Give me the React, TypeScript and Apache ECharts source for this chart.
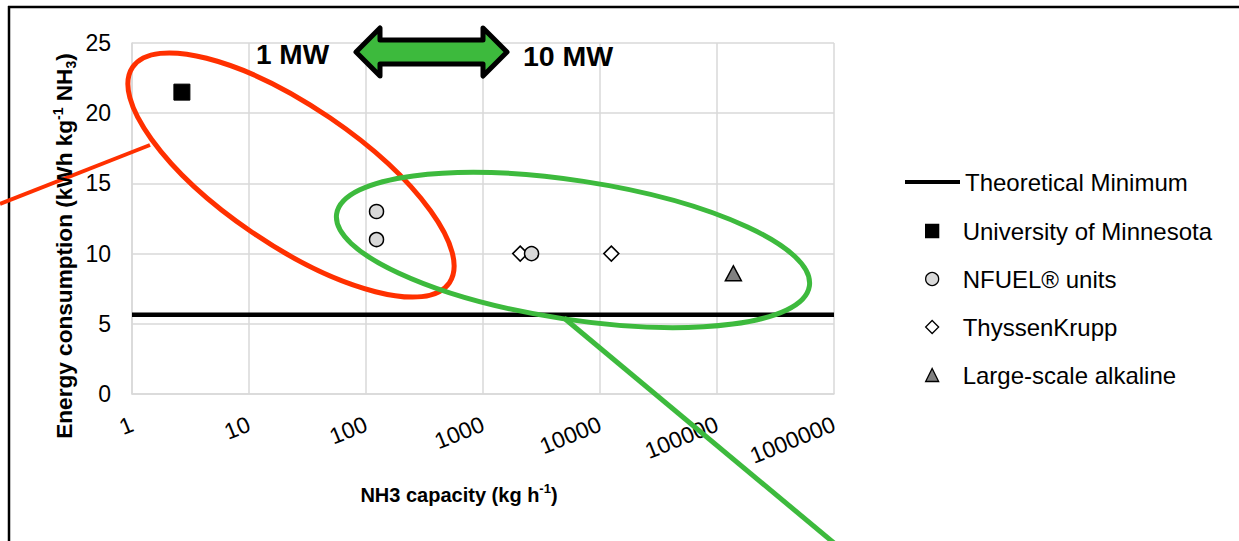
import { useEffect, useRef } from "react";
import * as echarts from "echarts";

const FONT = "'Liberation Sans', Arial, sans-serif";

// Axis ticks
const xTickValues = [1, 10, 100, 1000, 10000, 100000, 1000000];
const yTickValues = [0, 5, 10, 15, 20, 25];

// Series names
const seriesNames = [
  "Theoretical Minimum",
  "University of Minnesota",
  "NFUEL® units",
  "ThyssenKrupp",
  "Large-scale alkaline",
];

// Values (NH3 capacity kg/h, energy kWh/kg NH3)
const theoreticalMinimum = 5.64;
const umnCapacity = [2.67];
const umnEnergy = [21.5];
const nfuelCapacity = [123, 123, 2600];
const nfuelEnergy = [13, 11, 10];
const thyssenCapacity = [2080, 12500];
const thyssenEnergy = [10, 10];
const alkalineCapacity = [138000];
const alkalineEnergy = [8.6];

const zip = (xs: number[], ys: number[]) => xs.map((x, i) => [x, ys[i]]);

export default function App() {
  const ref = useRef<HTMLDivElement>(null);

  useEffect(() => {
    if (!ref.current) return;
    const chart = echarts.init(ref.current, null, { renderer: "svg" });
    const deg = Math.PI / 180;
    const gray = "#d9d9d9";
    const green = "#3dba3d";
    const red = "#ff3000";
    const legendText = { fontSize: 24, color: "#000", lineHeight: 24, fontFamily: FONT };

    chart.setOption({
      animation: false,
      textStyle: { fontFamily: FONT },
      grid: { left: 132, right: 405, top: 43, bottom: 147 },
      xAxis: {
        type: "log",
        logBase: 10,
        min: xTickValues[0],
        max: xTickValues[xTickValues.length - 1],
        splitNumber: 6,
        axisLine: { show: true, lineStyle: { color: gray, width: 1.5 } },
        axisTick: { show: false },
        minorTick: { show: false },
        minorSplitLine: { show: false },
        splitLine: { show: true, lineStyle: { color: gray, width: 1.5 } },
        axisLabel: {
          rotate: 22,
          margin: 29,
          fontSize: 23,
          color: "#000",
          showMinLabel: true,
          showMaxLabel: true,
          formatter: (v: number) => String(Math.round(v)),
        },
      },
      yAxis: {
        type: "value",
        min: yTickValues[0],
        max: yTickValues[yTickValues.length - 1],
        interval: 5,
        axisLine: { show: true, lineStyle: { color: gray, width: 1.5 } },
        axisTick: { show: false },
        splitLine: { show: true, lineStyle: { color: gray, width: 1.5 } },
        axisLabel: { fontSize: 23, color: "#000", margin: 21 },
      },
      legend: [
        {
          orient: "vertical",
          left: 905,
          top: 170,
          padding: 0,
          itemWidth: 55,
          itemHeight: 4,
          selectedMode: false,
          textStyle: legendText,
          data: [{ name: seriesNames[0], icon: "rect", itemStyle: { color: "#000" } }],
        },
        {
          orient: "vertical",
          left: 925,
          top: 219,
          padding: 0,
          itemWidth: 13,
          itemHeight: 13,
          itemGap: 24,
          selectedMode: false,
          itemStyle: { borderWidth: 1.3 },
          textStyle: { ...legendText, padding: [0, 0, 0, 19] },
          data: seriesNames.slice(1),
        },
      ],
      series: [
        {
          name: seriesNames[0],
          type: "line",
          symbol: "none",
          silent: true,
          z: 2,
          lineStyle: { color: "#000", width: 4.5 },
          itemStyle: { color: "#000" },
          data: [
            [xTickValues[0], theoreticalMinimum],
            [xTickValues[xTickValues.length - 1], theoreticalMinimum],
          ],
        },
        {
          name: seriesNames[1],
          type: "scatter",
          symbol: "rect",
          symbolSize: 16,
          z: 3,
          itemStyle: { color: "#000", borderColor: "#000", opacity: 1 },
          data: zip(umnCapacity, umnEnergy),
        },
        {
          name: seriesNames[2],
          type: "scatter",
          symbol: "circle",
          symbolSize: 14,
          z: 5,
          itemStyle: { color: "#d9d9d9", borderColor: "#000", borderWidth: 1.5, opacity: 1 },
          data: zip(nfuelCapacity, nfuelEnergy),
        },
        {
          name: seriesNames[3],
          type: "scatter",
          symbol: "diamond",
          symbolSize: 15,
          z: 4,
          itemStyle: { color: "#fff", borderColor: "#000", borderWidth: 1.5, opacity: 1 },
          data: zip(thyssenCapacity, thyssenEnergy),
        },
        {
          name: seriesNames[4],
          type: "scatter",
          symbol: "triangle",
          symbolSize: [16, 15],
          z: 4,
          itemStyle: { color: "#808080", borderColor: "#000", borderWidth: 1.5, opacity: 1 },
          data: zip(alkalineCapacity, alkalineEnergy),
        },
      ],
      graphic: [
        // page border
        { type: "line", z: 100, shape: { x1: 8, y1: 7, x2: 1239, y2: 7 }, style: { stroke: "#000", lineWidth: 2.5 } },
        { type: "line", z: 100, shape: { x1: 9, y1: 6, x2: 9, y2: 541 }, style: { stroke: "#000", lineWidth: 2.5 } },
        // red ellipse + pointer
        {
          type: "ellipse",
          z: 100,
          x: 291,
          y: 175,
          rotation: -34.25 * deg,
          shape: { cx: 0, cy: 0, rx: 191.5, ry: 69.2 },
          style: { fill: "none", stroke: red, lineWidth: 5 },
        },
        { type: "line", z: 100, shape: { x1: 0, y1: 204, x2: 150, y2: 145 }, style: { stroke: red, lineWidth: 4 } },
        // green ellipse + pointer
        {
          type: "ellipse",
          z: 100,
          x: 573,
          y: 250,
          rotation: -8.68 * deg,
          shape: { cx: 0, cy: 0, rx: 239, ry: 69.4 },
          style: { fill: "none", stroke: green, lineWidth: 5 },
        },
        { type: "line", z: 100, shape: { x1: 564, y1: 318, x2: 834, y2: 543 }, style: { stroke: green, lineWidth: 5 } },
        // double arrow
        {
          type: "polygon",
          z: 100,
          shape: {
            points: [
              [356, 52], [380, 28], [380, 40], [483, 40], [483, 28],
              [507, 52], [483, 76], [483, 64], [380, 64], [380, 76],
            ],
          },
          style: { fill: green, stroke: "#000", lineWidth: 5, lineJoin: "round" },
        },
        {
          type: "text",
          z: 100,
          x: 256,
          y: 54,
          style: { text: "1 MW", fontSize: 28, fontWeight: "bold", fontFamily: FONT, fill: "#000", align: "left", verticalAlign: "middle" },
        },
        {
          type: "text",
          z: 100,
          x: 523,
          y: 56,
          style: { text: "10 MW", fontSize: 28.5, fontWeight: "bold", fontFamily: FONT, fill: "#000", align: "left", verticalAlign: "middle" },
        },
        // axis titles
        {
          type: "text",
          z: 100,
          x: 64,
          y: 246,
          rotation: Math.PI / 2,
          style: {
            text: "{b|Energy consumption (kWh kg}{sup|-1}{b| NH}{sub|3}{b|)}",
            align: "center",
            verticalAlign: "middle",
            fill: "#000",
            rich: {
              b: { fontSize: 22.6, fontWeight: "bold", fontFamily: FONT, lineHeight: 27, fill: "#000" },
              sup: { fontSize: 14, fontWeight: "bold", fontFamily: FONT, lineHeight: 14, verticalAlign: "top", fill: "#000" },
              sub: { fontSize: 14, fontWeight: "bold", fontFamily: FONT, lineHeight: 14, verticalAlign: "bottom", fill: "#000" },
            },
          },
        },
        {
          type: "text",
          z: 100,
          x: 459,
          y: 495,
          style: {
            text: "{b|NH3 capacity (kg h}{sup|-1}{b|)}",
            align: "center",
            verticalAlign: "middle",
            fill: "#000",
            rich: {
              b: { fontSize: 20, fontWeight: "bold", fontFamily: FONT, lineHeight: 26, fill: "#000" },
              sup: { fontSize: 13, fontWeight: "bold", fontFamily: FONT, lineHeight: 13, verticalAlign: "top", fill: "#000" },
            },
          },
        },
      ],
    });

    return () => chart.dispose();
  }, []);

  return (
    <div
      ref={ref}
      style={{ position: "absolute", left: 0, top: 0, width: 1239, height: 541, background: "#fff" }}
    />
  );
}
